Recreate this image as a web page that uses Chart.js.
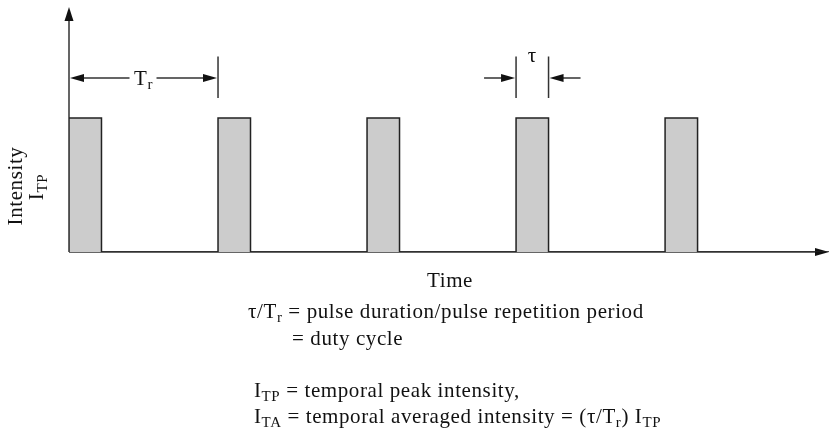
<!DOCTYPE html>
<html>
<head>
<meta charset="utf-8">
<script src="https://cdn.jsdelivr.net/npm/chart.js@4"></script>
<style>
  body { margin: 0; background: #fff; }
  #wrap { width: 829px; height: 431px; position: relative; }
</style>
</head>
<body>
<div id="wrap"><canvas id="pulseChart"></canvas></div>
<script>
// time measured in units of the repetition period Tr
var pulseStarts = [0, 1, 2, 3, 4];
var pulseWidth = 0.218;      // tau / Tr
var peakIntensity = 1;       // I_TP
var xMax = 5.1;
var yMax = 1.83;
var markerY = 1.30, markerTop = 1.46, markerBottom = 1.15;
var tauPulse = 3;            // pulse that carries the tau marker

var FONT = '"Liberation Serif", "Times New Roman", serif';

// outline of the pulse train
var points = [];
pulseStarts.forEach(function (s) {
  points.push({x: s, y: 0});
  points.push({x: s, y: peakIntensity});
  points.push({x: s + pulseWidth, y: peakIntensity});
  points.push({x: s + pulseWidth, y: 0});
});
points.push({x: xMax, y: 0});

function drawRich(ctx, x, y, parts, align, size) {
  var subSize = Math.round(size * 0.7);
  var w = 0;
  parts.forEach(function (p) {
    ctx.font = (p.sub ? subSize : size) + 'px ' + FONT;
    p.w = ctx.measureText(p.t).width;
    w += p.w;
  });
  var cx = align === 'center' ? x - w / 2 : x;
  ctx.textAlign = 'left';
  ctx.textBaseline = 'alphabetic';
  parts.forEach(function (p) {
    ctx.font = (p.sub ? subSize : size) + 'px ' + FONT;
    ctx.fillText(p.t, cx, p.sub ? y + 4 : y);
    cx += p.w;
  });
}

function arrowHead(ctx, x, y, dir) {
  // dir: 'l','r','u'
  ctx.beginPath();
  if (dir === 'r') { ctx.moveTo(x, y); ctx.lineTo(x - 14, y - 4); ctx.lineTo(x - 14, y + 4); }
  if (dir === 'l') { ctx.moveTo(x, y); ctx.lineTo(x + 14, y - 4); ctx.lineTo(x + 14, y + 4); }
  if (dir === 'u') { ctx.moveTo(x, y); ctx.lineTo(x - 4.5, y + 14); ctx.lineTo(x + 4.5, y + 14); }
  ctx.closePath();
  ctx.fill();
}

var diagramPlugin = {
  id: 'diagram',
  beforeDatasetsDraw: function (chart) {
    var ctx = chart.ctx, xs = chart.scales.x, ys = chart.scales.y;
    var x0 = xs.getPixelForValue(0), y0 = ys.getPixelForValue(0);
    ctx.save();
    ctx.strokeStyle = '#333';
    ctx.fillStyle = '#111';
    ctx.lineWidth = 1.5;
    ctx.beginPath();
    ctx.moveTo(x0, y0); ctx.lineTo(x0, ys.getPixelForValue(yMax) + 6);
    ctx.moveTo(x0, y0); ctx.lineTo(xs.getPixelForValue(xMax) - 6, y0);
    ctx.stroke();
    arrowHead(ctx, x0, ys.getPixelForValue(yMax), 'u');
    arrowHead(ctx, xs.getPixelForValue(xMax), y0, 'r');
    ctx.restore();
  },
  afterDatasetsDraw: function (chart) {
    var ctx = chart.ctx, xs = chart.scales.x, ys = chart.scales.y;
    var my = ys.getPixelForValue(markerY);
    var mt = ys.getPixelForValue(markerTop), mb = ys.getPixelForValue(markerBottom);
    ctx.save();
    ctx.strokeStyle = '#333';
    ctx.fillStyle = '#111';
    ctx.lineWidth = 1.5;
    ctx.letterSpacing = '0.6px';

    // Tr marker
    var a = xs.getPixelForValue(pulseStarts[0]), b = xs.getPixelForValue(pulseStarts[1]);
    var mid = (a + b) / 2;
    ctx.beginPath();
    ctx.moveTo(b, mt); ctx.lineTo(b, mb);
    ctx.moveTo(a + 10, my); ctx.lineTo(mid - 14, my);
    ctx.moveTo(mid + 13, my); ctx.lineTo(b - 10, my);
    ctx.stroke();
    arrowHead(ctx, a + 1, my, 'l');
    arrowHead(ctx, b - 1, my, 'r');
    drawRich(ctx, mid, my + 7, [{t: 'T'}, {t: 'r', sub: true}], 'center', 21);

    // tau marker
    var t1 = xs.getPixelForValue(pulseStarts[tauPulse]);
    var t2 = xs.getPixelForValue(pulseStarts[tauPulse] + pulseWidth);
    ctx.beginPath();
    ctx.moveTo(t1, mt); ctx.lineTo(t1, mb);
    ctx.moveTo(t2, mt); ctx.lineTo(t2, mb);
    ctx.moveTo(t1 - 32, my); ctx.lineTo(t1 - 10, my);
    ctx.moveTo(t2 + 32, my); ctx.lineTo(t2 + 10, my);
    ctx.stroke();
    arrowHead(ctx, t1 - 1, my, 'r');
    arrowHead(ctx, t2 + 1, my, 'l');
    drawRich(ctx, (t1 + t2) / 2, 62, [{t: 'τ'}], 'center', 21);

    // axis titles
    drawRich(ctx, 450, 287, [{t: 'Time'}], 'center', 21);
    ctx.save();
    ctx.translate(22, 186);
    ctx.rotate(-Math.PI / 2);
    drawRich(ctx, 0, 0, [{t: 'Intensity'}], 'center', 21);
    ctx.restore();
    ctx.save();
    ctx.translate(47, 187);
    ctx.rotate(-Math.PI / 2);
    drawRich(ctx, 0, -4, [{t: 'I'}, {t: 'TP', sub: true}], 'center', 21);
    ctx.restore();

    // notes
    drawRich(ctx, 248, 318, [{t: 'τ/T'}, {t: 'r', sub: true}, {t: ' = pulse duration/pulse repetition period'}], 'left', 21);
    drawRich(ctx, 292, 345, [{t: '= duty cycle'}], 'left', 21);
    drawRich(ctx, 254, 397, [{t: 'I'}, {t: 'TP', sub: true}, {t: ' = temporal peak intensity,'}], 'left', 21);
    drawRich(ctx, 254, 423, [{t: 'I'}, {t: 'TA', sub: true}, {t: ' = temporal averaged intensity = (τ/T'}, {t: 'r', sub: true}, {t: ') I'}, {t: 'TP', sub: true}], 'left', 21);
    ctx.restore();
  }
};

new Chart('pulseChart', {
  type: 'line',
  data: {
    datasets: [{
      data: points,
      borderColor: '#222',
      borderWidth: 1.5,
      backgroundColor: '#cccccc',
      fill: 'origin',
      pointRadius: 0,
      tension: 0
    }]
  },
  options: {
    responsive: true,
    maintainAspectRatio: false,
    animation: false,
    layout: { padding: { left: 69, right: 0, top: 7, bottom: 179 } },
    plugins: { legend: { display: false }, tooltip: { enabled: false } },
    scales: {
      x: { type: 'linear', min: 0, max: xMax, display: false },
      y: { min: 0, max: yMax, display: false }
    }
  },
  plugins: [diagramPlugin]
});
</script>
</body>
</html>
